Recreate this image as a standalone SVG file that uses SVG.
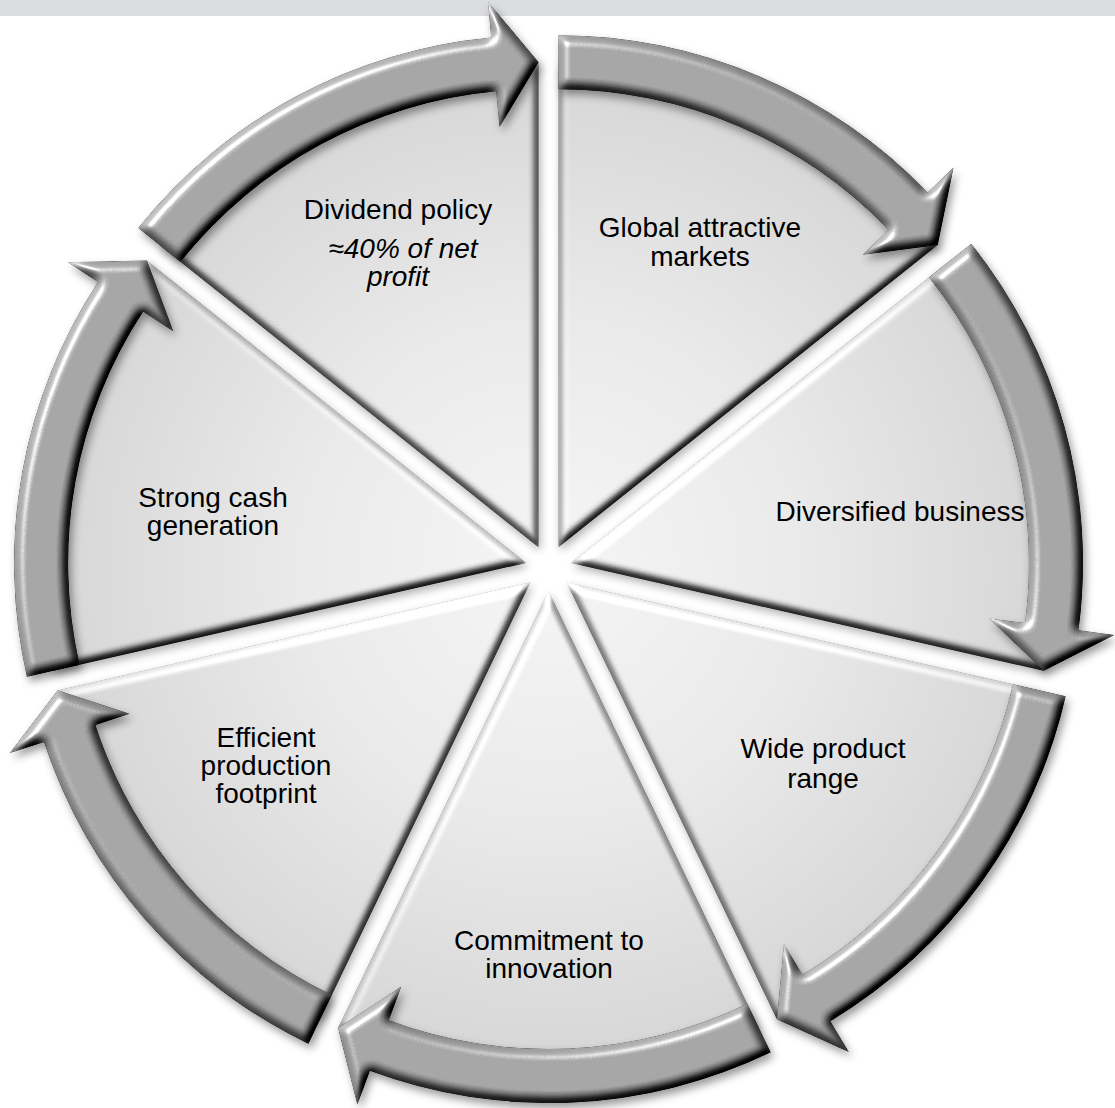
<svg xmlns="http://www.w3.org/2000/svg" width="1115" height="1108" viewBox="0 0 1115 1108">
<defs>
<radialGradient id="gSlice" gradientUnits="userSpaceOnUse" cx="548.5" cy="568" r="500">
<stop offset="0" stop-color="#f6f6f6"/>
<stop offset="0.5" stop-color="#eaeaea"/>
<stop offset="1" stop-color="#d6d6d6"/>
</radialGradient>
<filter id="fArrow" x="-10%" y="-10%" width="120%" height="120%" color-interpolation-filters="sRGB">
<feGaussianBlur in="SourceAlpha" stdDeviation="5" result="bump"/>
<feDiffuseLighting in="bump" surfaceScale="8" diffuseConstant="1" lighting-color="#fff" result="diff">
<feDistantLight azimuth="225" elevation="50"/>
</feDiffuseLighting>
<feSpecularLighting in="bump" surfaceScale="8" specularConstant="0.45" specularExponent="30" lighting-color="#fff" result="spec">
<feDistantLight azimuth="225" elevation="50"/>
</feSpecularLighting>
<feComposite in="SourceGraphic" in2="diff" operator="arithmetic" k1="1.3" result="shaded"/>
<feComposite in="spec" in2="SourceAlpha" operator="in" result="specIn"/>
<feComposite in="shaded" in2="specIn" operator="arithmetic" k2="1" k3="1" result="lit"/>
<feGaussianBlur in="SourceAlpha" stdDeviation="4" result="sb"/>
<feOffset in="sb" dx="3" dy="5" result="so"/>
<feFlood flood-color="#000" flood-opacity="0.4"/>
<feComposite in2="so" operator="in" result="shadow"/>
<feMerge><feMergeNode in="shadow"/><feMergeNode in="lit"/></feMerge>
</filter>
<filter id="fSlice" x="-10%" y="-10%" width="120%" height="120%" color-interpolation-filters="sRGB">
<feGaussianBlur in="SourceAlpha" stdDeviation="4" result="bump"/>
<feDiffuseLighting in="bump" surfaceScale="8" diffuseConstant="1" lighting-color="#fff" result="diff">
<feDistantLight azimuth="250" elevation="60"/>
</feDiffuseLighting>
<feComposite in="SourceGraphic" in2="diff" operator="arithmetic" k1="1.155" result="lit"/>
<feGaussianBlur in="SourceAlpha" stdDeviation="4" result="sb"/>
<feOffset in="sb" dx="2" dy="4" result="so"/>
<feFlood flood-color="#000" flood-opacity="0.3"/>
<feComposite in2="so" operator="in" result="shadow"/>
<feMerge><feMergeNode in="shadow"/><feMergeNode in="lit"/></feMerge>
</filter>
</defs>
<style>
.slice{fill:url(#gSlice);filter:url(#fSlice)}
.arrow{fill:#969696;filter:url(#fArrow)}
.lbl{font-family:"Liberation Sans",Arial,sans-serif;font-size:28px;fill:#000;text-anchor:middle}
.it{font-style:italic}
</style>
<rect x="0" y="0" width="1115" height="1108" fill="#fff"/>
<rect id="topband" x="0" y="0" width="1115" height="16" fill="#dcdde0"/>

<g id="node-global">
<path class="slice" d="M558.48,547.28 L558.48,62.28 A485,485 0 0 1 937.67,244.89 Z"/>
<text class="lbl" x="700" y="237">Global attractive</text>
<text class="lbl" x="700" y="266">markets</text>
</g>
<g id="node-diversified">
<path class="slice" d="M570.92,562.88 L950.11,260.49 A485,485 0 0 1 1043.76,670.80 Z"/>
<text class="lbl" x="900" y="521">Diversified business</text>
</g>
<g id="node-wide">
<path class="slice" d="M566.48,582.34 L1039.32,690.26 A485,485 0 0 1 776.91,1019.31 Z"/>
<text class="lbl" x="823" y="758">Wide product</text>
<text class="lbl" x="823" y="788">range</text>
</g>
<g id="node-commitment">
<path class="slice" d="M548.5,591 L758.93,1027.97 A485,485 0 0 1 338.07,1027.97 Z"/>
<text class="lbl" x="549" y="950">Commitment to</text>
<text class="lbl" x="549" y="978">innovation</text>
</g>
<g id="node-efficient">
<path class="slice" d="M530.52,582.34 L320.09,1019.31 A485,485 0 0 1 57.68,690.26 Z"/>
<text class="lbl" x="266" y="747">Efficient</text>
<text class="lbl" x="266" y="775">production</text>
<text class="lbl" x="266" y="803">footprint</text>
</g>
<g id="node-strong">
<path class="slice" d="M526.08,562.88 L53.24,670.80 A485,485 0 0 1 146.89,260.49 Z"/>
<text class="lbl" x="213" y="507">Strong cash</text>
<text class="lbl" x="213" y="535">generation</text>
</g>
<g id="node-dividend">
<path class="slice" d="M538.52,547.28 L159.33,244.89 A485,485 0 0 1 538.52,62.28 Z"/>
<text class="lbl" x="398" y="219">Dividend policy</text>
<text class="lbl it" x="403" y="258">≈40% of net</text>
<text class="lbl it" x="398" y="286">profit</text>
</g>

<g id="connectors">
<path class="arrow" d="M558.48,35.28 A512,512 0 0 1 927.58,192.44 L953.53,167.49 L937.67,244.89 L862.70,254.81 L888.65,229.86 A458,458 0 0 0 558.48,89.28 Z"/>
<path class="arrow" d="M971.22,243.65 A512,512 0 0 1 1078.47,630.22 L1114.16,634.95 L1043.76,670.80 L989.25,618.38 L1024.94,623.12 A458,458 0 0 0 929.00,277.32 Z"/>
<path class="arrow" d="M1065.64,696.27 A512,512 0 0 1 830.29,1021.14 L848.84,1052.00 L776.91,1019.31 L783.92,944.01 L802.46,974.86 A458,458 0 0 0 1013.00,684.25 Z"/>
<path class="arrow" d="M770.65,1052.30 A512,512 0 0 1 369.91,1070.84 L357.36,1104.58 L338.07,1027.97 L401.31,986.49 L388.75,1020.23 A458,458 0 0 0 747.22,1003.64 Z"/>
<path class="arrow" d="M308.37,1043.64 A512,512 0 0 1 44.01,741.89 L9.80,753.11 L57.68,690.26 L129.53,713.85 L95.32,725.07 A458,458 0 0 0 331.80,994.98 Z"/>
<path class="arrow" d="M26.92,676.81 A512,512 0 0 1 98.00,281.99 L67.90,262.24 L146.89,260.49 L173.25,331.37 L143.15,311.62 A458,458 0 0 0 79.56,664.79 Z"/>
<path class="arrow" d="M138.22,228.05 A512,512 0 0 1 491.23,37.47 L487.90,1.63 L538.52,62.28 L499.54,127.09 L496.21,91.24 A458,458 0 0 0 180.44,261.72 Z"/>
</g>
</svg>
